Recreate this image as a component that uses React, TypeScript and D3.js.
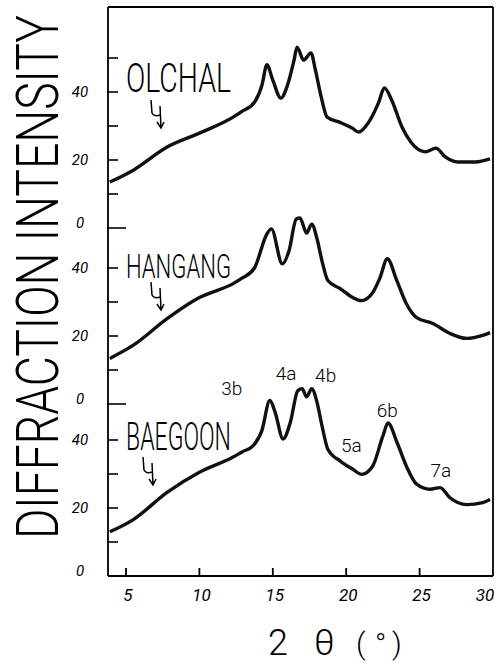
import React, { useLayoutEffect, useRef, useState } from "react";
import * as d3 from "d3";

// 2θ tick values
const xTicks = [5, 10, 15, 20, 25, 30];

// sample names (top to bottom)
const samples = ["OLCHAL", "HANGANG", "BAEGOON"];

// [2θ (deg), intensity]
const olchal: [number, number][] = [
  [3.9, 13.5], [5.5, 17], [7.8, 23.8], [10, 27.9], [12.3, 32.6], [12.9, 34.3],
  [13.75, 37], [14.26, 42], [14.6, 48], [15, 43.5], [15.55, 38.2], [16, 42], [16.45, 49.4],
  [16.65, 53.2], [17.1, 49.4], [17.6, 51.5], [17.9, 46.5], [18.3, 38.5], [18.7, 32.6],
  [19.5, 31.2], [20.4, 29.4], [20.85, 28.2], [21.5, 30.9], [22.2, 36.8], [22.6, 41.2],
  [23.1, 37.6], [23.8, 29.7], [24.4, 25.3], [25.4, 22.4], [26.1, 23.5], [26.75, 20.9],
  [27.6, 19.4], [28.8, 19.4], [29.8, 20.3],
];

const hangang: [number, number][] = [
  [3.9, 13.4], [5.5, 17.3], [7.8, 25.1], [10, 31.3], [12.3, 35.4], [12.9, 37], [13.75, 40],
  [14.6, 50], [14.9, 51.5], [15.65, 41.2], [16.1, 45], [16.6, 54.4], [16.85, 54.7],
  [17.3, 50.3], [17.65, 52.9], [18, 48.8], [18.35, 42.1], [18.75, 36.3], [19.6, 33.9],
  [20.45, 31.3], [21.05, 30.4], [21.8, 32.7], [22.3, 37.1], [22.8, 42.7], [23.45, 36.3],
  [24.1, 29.5], [24.8, 25.4], [25.9, 23.7], [27.05, 20.8], [28.2, 19.3], [29.3, 20.2],
  [29.8, 21],
];

const baegoon: [number, number][] = [
  [3.9, 13], [5.5, 16.6], [7.8, 24.6], [10, 30.5], [12.3, 35], [12.9, 36.5], [13.65, 38.3],
  [14.25, 42.7], [14.8, 51.6], [15.15, 48.3], [15.7, 40.3], [16.2, 45.3], [16.7, 54.5],
  [17, 55.1], [17.3, 52.7], [17.65, 55.1], [18, 51.3], [18.35, 44.2], [18.75, 37.3],
  [19.6, 33.8], [20.45, 31.4], [21.05, 29.9], [21.8, 32.3], [22.5, 41.2], [22.85, 45],
  [23.45, 39.4], [24.1, 32.3], [24.8, 27], [25.7, 25.5], [26.4, 26], [27.05, 23.1],
  [28.2, 21], [29.3, 21.6], [29.8, 22.5],
];

// y tick values for each panel
const topTicks = [0, 10, 20, 30, 40, 50];
const midTicks = [0, 10, 20, 30, 40];
const botTicks = [10, 20, 30, 40];
const yTickLabels = [0, 20, 40];

// peak annotations on the lowest trace: [label, 2θ, intensity]
const peakLabels: [string, number, number][] = [
  ["3b", 12.2, 53.2],
  ["4a", 15.9, 57.6],
  ["4b", 18.6, 57],
  ["5a", 20.35, 36.5],
  ["6b", 22.8, 46.8],
  ["7a", 26.45, 29.1],
];

const W = 503;
const H = 666;

export default function App() {
  const left = 108;
  const right = 493;
  const top = 7;
  const bottom = 576;

  const titleRef = useRef<SVGTextElement | null>(null);
  const [titleScale, setTitleScale] = useState(0.7);
  useLayoutEffect(() => {
    if (titleRef.current) {
      const len = titleRef.current.getComputedTextLength();
      if (len > 0) setTitleScale(524 / len);
    }
  }, []);

  const x = d3.scaleLinear().domain([5, 30]).range([126, 493]);

  const panels = [
    { name: samples[0], data: olchal, base: 228, ticks: topTicks, labelY: 92, labelSize: 40, arrow: [151, 100] },
    { name: samples[1], data: hangang, base: 404, ticks: midTicks, labelY: 278, labelSize: 33, arrow: [151, 282] },
    { name: samples[2], data: baegoon, base: 576, ticks: botTicks, labelY: 450, labelSize: 38, arrow: [143, 457] },
  ];

  const font = "Roboto, 'DejaVu Sans', sans-serif";

  return (
    <svg width={W} height={H} style={{ position: "absolute", left: 0, top: 0, background: "#fff" }}>
      <rect x={0} y={0} width={W} height={H} fill="#fff" />
      {/* frame */}
      <g stroke="#000" strokeWidth={1.8} fill="none">
        <line x1={left} y1={top} x2={right} y2={top} />
        <line x1={right} y1={top} x2={right} y2={bottom} />
        <line x1={left} y1={bottom} x2={right} y2={bottom} />
        <line x1={left} y1={top} x2={left} y2={bottom} />
        {xTicks.filter((t) => t < 30).map((t) => (
          <line key={t} x1={x(t)} y1={bottom} x2={x(t)} y2={bottom - 8} />
        ))}
      </g>
      {/* x tick labels */}
      <g fontFamily={font} fontStyle="italic" fontSize={17} textAnchor="middle" fill="#000">
        {xTicks.map((t) => (
          <text key={t} x={x(t) + (t === 30 ? -8 : 2)} y={601}>
            {t}
          </text>
        ))}
      </g>
      {/* x title */}
      <g fontFamily={font} fontWeight={300} fill="#000">
        <text x={268} y={655} fontSize={36}>2</text>
        <text x={314} y={655} fontSize={36}>θ</text>
        <text x={356} y={654} fontSize={30}>(</text>
        <text x={375} y={654} fontSize={30}>°</text>
        <text x={392} y={654} fontSize={30}>)</text>
      </g>
      {/* y title */}
      <g transform={`translate(58,277) rotate(-90) scale(${titleScale},1)`}>
        <text
          ref={titleRef}
          textAnchor="middle"
          fontFamily={font}
          fontWeight={300}
          fontSize={60}
          fill="#000"
        >
          DIFFRACTION INTENSITY
        </text>
      </g>

      {panels.map((p) => {
        const y = d3.scaleLinear().domain([0, 10]).range([p.base, p.base - 34]);
        const line = d3
          .line<[number, number]>()
          .x((d) => x(d[0]))
          .y((d) => y(d[1]))
          .curve(d3.curveMonotoneX);
        const [ax, ay] = p.arrow;
        return (
          <g key={p.name}>
            <g stroke="#000" strokeWidth={1.6}>
              {p.ticks.map((t) => (
                <line key={t} x1={left} y1={y(t)} x2={left + (t === 0 ? 18 : 10)} y2={y(t)} />
              ))}
            </g>
            <g fontFamily={font} fontStyle="italic" fontSize={15} textAnchor="middle" fill="#000">
              {yTickLabels.map((v) => (
                <text key={v} x={80} y={y(v) + (v === 0 ? 0 : 5)}>
                  {v}
                </text>
              ))}
            </g>
            <path d={line(p.data) || ""} fill="none" stroke="#111" strokeWidth={3.4} strokeLinejoin="round" />
            <text
              x={126}
              y={p.labelY}
              fontFamily={font}
              fontWeight={300}
              fontSize={p.labelSize}
              textLength={105}
              lengthAdjust="spacingAndGlyphs"
              fill="#000"
            >
              {p.name}
            </text>
            <path
              d={`M${ax},${ay} L${ax + 1},${ay + 13} Q${ax + 3},${ay + 17} ${ax + 9},${ay + 15} M${ax + 9},${ay + 6} L${ax + 10},${ay + 28} M${ax + 6},${ay + 22} L${ax + 10},${ay + 28} L${ax + 13},${ay + 22}`}
              fill="none"
              stroke="#000"
              strokeWidth={1.5}
            />
          </g>
        );
      })}

      {/* peak annotations */}
      <g fontFamily={font} fontWeight={300} fontSize={19} textAnchor="middle" fill="#000">
        {peakLabels.map(([lbl, t, v]) => {
          const y = d3.scaleLinear().domain([0, 10]).range([576, 542]);
          return (
            <text key={lbl} x={x(t)} y={y(v)}>
              {lbl}
            </text>
          );
        })}
      </g>
    </svg>
  );
}
